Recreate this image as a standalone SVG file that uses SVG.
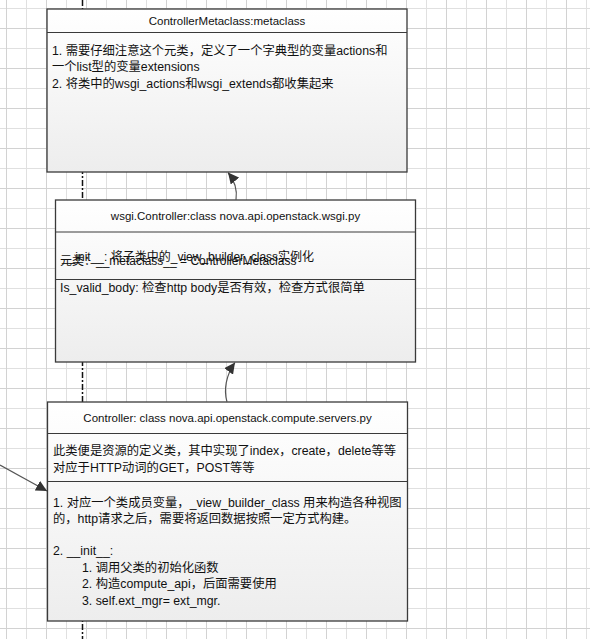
<svg xmlns="http://www.w3.org/2000/svg" width="590" height="639" viewBox="0 0 590 639">
  <defs>
    <pattern id="grid" patternUnits="userSpaceOnUse" x="6" y="8" width="40" height="40">
      <path d="M20.5 0 V40" stroke="#e0e0e0" stroke-width="1"/>
      <path d="M0 0.5 H40" stroke="#e0e0e0" stroke-width="1"/>
      <path d="M0.5 0 V40" stroke="#d2d2d2" stroke-width="1"/>
      <path d="M0 20.5 H40" stroke="#d2d2d2" stroke-width="1"/>
    </pattern>
    <linearGradient id="boxFill" x1="0" y1="0" x2="0" y2="1">
      <stop offset="0" stop-color="#ffffff"/>
      <stop offset="1" stop-color="#ededed"/>
    </linearGradient>
    <marker id="arrow" markerUnits="userSpaceOnUse" markerWidth="13" markerHeight="11" refX="11" refY="5.5" orient="auto">
      <path d="M0 0 L11 5.5 L0 11 Z" fill="#333333"/>
    </marker>
    <style>
      .box { fill: url(#boxFill); stroke: #3a3a3a; stroke-width: 1.3; }
      .div { stroke: #3a3a3a; stroke-width: 1.2; }
      .title { font-family: "Liberation Sans", "Noto Sans CJK SC", sans-serif; font-size: 11.5px; fill: #111; text-anchor: middle; }
      .txt { font-family: "Liberation Sans", "Noto Sans CJK SC", sans-serif; font-size: 12.3px; fill: #111; }
      .mid { font-family: "Liberation Sans", "Noto Sans CJK SC", sans-serif; font-size: 12px; fill: #111; }
      .life { stroke: #111; stroke-width: 1.5; stroke-dasharray: 6 2 2 2; fill: none; }
      .conn { stroke: #555; stroke-width: 1.2; fill: none; marker-end: url(#arrow); }
    </style>
  </defs>

  <rect x="0" y="0" width="590" height="639" fill="#ffffff"/>
  <rect x="0" y="0" width="590" height="639" fill="url(#grid)"/>

  <!-- lifeline behind the class boxes -->
  <line class="life" x1="82.5" y1="0" x2="82.5" y2="639"/>

  <!-- ControllerMetaclass -->
  <g id="metaclass">
    <rect class="box" x="47" y="9" width="360" height="163"/>
    <line class="div" x1="47" y1="32.5" x2="407" y2="32.5"/>
    <text class="title" x="227" y="24.5">ControllerMetaclass:metaclass</text>
    <text class="txt" x="52" y="54.5">1. 需要仔细注意这个元类，定义了一个字典型的变量actions和</text>
    <text class="txt" x="52" y="71">一个list型的变量extensions</text>
    <text class="txt" x="52" y="87.5">2. 将类中的wsgi_actions和wsgi_extends都收集起来</text>
  </g>

  <!-- wsgi.Controller -->
  <g id="wsgi-controller">
    <rect class="box" x="55.5" y="200" width="360" height="162"/>
    <line class="div" x1="55.5" y1="232" x2="415.5" y2="232"/>
    <line class="div" x1="55.5" y1="279.5" x2="415.5" y2="279.5"/>
    <text class="title" x="235.5" y="220">wsgi.Controller:class nova.api.openstack.wsgi.py</text>
    <text class="mid" x="60" y="265">元类：__metaclass__ = ControllerMetaclass</text>
    <text class="mid" x="62" y="261">__init__: 将子类中的_view_builder_class实例化</text>
    <text class="txt" x="60" y="292">Is_valid_body: 检查http body是否有效，检查方式很简单</text>
  </g>

  <!-- Controller (servers.py) -->
  <g id="servers-controller">
    <rect class="box" x="47.5" y="402" width="360" height="219"/>
    <line class="div" x1="47.5" y1="433.5" x2="407.5" y2="433.5"/>
    <line class="div" x1="47.5" y1="481.5" x2="407.5" y2="481.5"/>
    <text class="title" x="227.5" y="422">Controller: class nova.api.openstack.compute.servers.py</text>
    <text class="txt" x="53" y="455">此类便是资源的定义类，其中实现了index，create，delete等等</text>
    <text class="txt" x="53" y="471.5">对应于HTTP动词的GET，POST等等</text>
    <text class="txt" x="53" y="506.5">1. 对应一个类成员变量，_view_builder_class 用来构造各种视图</text>
    <text class="txt" x="53" y="523">的，http请求之后，需要将返回数据按照一定方式构建。</text>
    <text class="txt" x="53" y="555">2. __init__:</text>
    <text class="txt" x="82" y="571.5">1. 调用父类的初始化函数</text>
    <text class="txt" x="82" y="588">2. 构造compute_api，后面需要使用</text>
    <text class="txt" x="82" y="605">3.  self.ext_mgr= ext_mgr.</text>
  </g>

  <!-- connectors -->
  <g id="connectors">
    <path class="conn" d="M236 200 C237.5 190 235 181 228 172.5"/>
    <path class="conn" d="M227 402 C223.5 390 226 375 235 362.5"/>
    <path class="conn" d="M0 465 L47 491"/>
  </g>
</svg>
